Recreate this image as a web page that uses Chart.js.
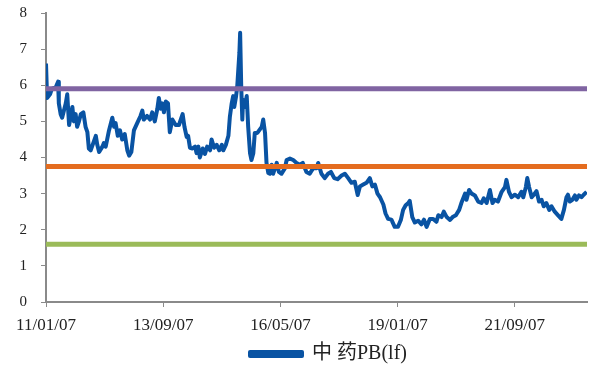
<!DOCTYPE html>
<html><head><meta charset="utf-8">
<script src="https://cdn.jsdelivr.net/npm/chart.js@4.4.0/dist/chart.umd.min.js"></script>
<style>html,body{margin:0;padding:0;background:#fff;}#wrap{width:592px;height:370px;position:relative;}</style>
</head><body><div id="wrap"><canvas id="c" width="592" height="370"></canvas></div>
<script>
// x: months since 2011-01-07, y: PB(lf)
const monthOffsets = [0.0,0.3,1.1,1.6,2.7,3.3,3.5,4.0,4.4,4.9,5.4,5.8,6.3,6.7,7.2,7.6,8.1,8.5,9.0,9.5,10.2,10.8,11.3,11.7,12.2,12.9,13.6,14.0,14.5,15.4,15.8,16.3,17.2,18.1,18.6,19.0,19.6,20.2,20.8,21.5,22.2,22.7,23.3,24.0,24.9,25.8,26.3,26.7,27.6,28.4,29.0,29.7,30.4,30.8,31.3,31.7,32.2,32.7,33.3,33.8,34.5,35.4,36.3,37.3,37.8,38.4,38.8,39.3,40.0,40.7,41.1,41.6,42.0,42.8,43.4,44.0,44.8,45.2,45.9,46.6,47.3,48.0,48.4,49.1,49.8,50.2,50.7,51.1,51.4,51.9,52.2,52.8,53.0,53.3,53.6,53.8,54.3,54.8,55.2,55.7,56.1,56.6,57.0,57.7,58.2,58.9,59.3,59.8,60.2,60.7,61.1,61.6,62.0,63.0,63.6,64.3,65.2,65.7,66.6,67.5,68.4,69.3,70.1,71.1,72.0,72.9,73.9,74.3,75.2,76.1,77.0,77.8,78.7,79.6,80.7,81.6,82.5,83.4,84.3,85.1,85.7,86.6,87.5,88.4,89.1,89.8,90.5,91.2,92.1,92.7,93.4,94.3,95.2,96.1,96.9,97.5,98.2,98.9,99.3,100.0,100.7,101.6,102.5,103.2,103.9,104.8,105.7,106.6,107.1,108.0,108.6,109.4,110.3,111.0,111.9,112.8,113.4,114.4,114.8,115.5,116.2,117.1,118.0,118.9,119.5,120.3,121.2,121.9,122.5,123.4,124.4,125.3,125.7,126.4,127.1,128.0,128.9,129.8,130.3,131.0,131.4,131.9,132.6,133.2,133.9,134.6,135.3,135.9,136.6,137.4,138.0,138.9,139.8,140.7,141.4,142.1,142.5,143.0,143.7,144.4,144.8,145.5,146.2,146.8,147.6];
const pbValues = [6.6,5.65,5.75,5.9,5.95,6.1,5.5,5.2,5.1,5.3,5.5,5.75,4.9,5.1,5.4,5.0,5.2,4.85,5.0,5.2,5.25,4.85,4.7,4.25,4.2,4.4,4.6,4.35,4.15,4.3,4.4,4.3,4.75,5.1,4.85,4.95,4.6,4.75,4.5,4.65,4.2,4.05,4.15,4.75,4.95,5.15,5.3,5.05,5.15,5.05,5.25,5.0,5.35,5.65,5.35,5.5,5.25,5.55,5.5,4.7,5.05,4.9,4.9,5.2,4.85,4.57,4.6,4.27,4.25,4.3,4.12,4.3,4.0,4.25,4.1,4.3,4.2,4.5,4.27,4.35,4.2,4.35,4.2,4.35,4.6,5.13,5.5,5.7,5.4,5.7,5.95,6.9,7.45,5.95,5.05,5.6,5.4,5.7,4.85,4.12,3.93,4.12,4.68,4.68,4.75,4.85,5.05,4.68,3.85,3.57,3.55,3.8,3.55,3.85,3.6,3.55,3.7,3.93,3.97,3.93,3.85,3.8,3.85,3.6,3.55,3.7,3.7,3.85,3.55,3.43,3.55,3.6,3.43,3.4,3.5,3.55,3.43,3.3,3.33,2.96,3.2,3.25,3.3,3.43,3.2,3.25,3.0,2.9,2.7,2.45,2.3,2.28,2.08,2.08,2.28,2.55,2.68,2.74,2.8,2.35,2.2,2.25,2.15,2.28,2.08,2.3,2.3,2.22,2.4,2.35,2.5,2.35,2.27,2.35,2.4,2.55,2.74,3.0,2.83,3.1,3.0,2.95,2.78,2.74,2.87,2.74,3.1,2.74,2.83,2.78,3.05,3.18,3.38,3.05,2.9,2.97,2.9,3.05,2.9,3.18,3.43,3.18,2.9,2.97,3.07,2.78,2.83,2.65,2.74,2.55,2.65,2.5,2.4,2.3,2.55,2.9,2.97,2.78,2.83,2.95,2.83,2.95,2.9,2.97,3.05];
const tickMonths = [0, 32, 64, 96, 128];
const tickLabels = ['11/01/07', '13/09/07', '16/05/07', '19/01/07', '21/09/07'];
const upperLevel = 5.9;
const meanLevel = 3.75;
const lowerLevel = 1.6;
const xMax = 147.7;
const seriesName = '中 药PB(lf)';

const serif = "'Liberation Serif','Times New Roman','Noto Sans CJK SC',serif";
const axisGray = '#8a8a8a';
const pts = monthOffsets.map((m, i) => ({x: m, y: pbValues[i]}));
const flat = v => [{x: 0, y: v}, {x: xMax, y: v}];

const legendShift = {
  id: 'legendShift',
  afterLayout(chart) {
    const lg = chart.legend;
    if (lg) { lg.left += 35; lg.right += 35; }
  }
};

new Chart(document.getElementById('c'), {
  type: 'line',
  data: {
    datasets: [
      {label: seriesName, data: pts, borderColor: '#0953a3', backgroundColor: '#0953a3', borderWidth: 4, pointRadius: 0, tension: 0, borderJoinStyle: 'round', order: 10},
      {label: 'upper', data: flat(upperLevel), borderColor: '#8064a2', borderWidth: 5, pointRadius: 0, order: 1},
      {label: 'mean', data: flat(meanLevel), borderColor: '#e46c1f', borderWidth: 5, pointRadius: 0, order: 1},
      {label: 'lower', data: flat(lowerLevel), borderColor: '#9bbb59', borderWidth: 5, pointRadius: 0, order: 1}
    ]
  },
  plugins: [legendShift],
  options: {
    responsive: false,
    animation: false,
    devicePixelRatio: 1,
    layout: {padding: {top: 13, right: 5, left: 0, bottom: 0}},
    plugins: {
      tooltip: {enabled: false},
      legend: {
        position: 'bottom',
        maxHeight: 30,
        labels: {
          filter: item => item.datasetIndex === 0,
          boxWidth: 52, boxHeight: 4, padding: 4,
          color: '#222',
          font: {family: serif, size: 20}
        }
      }
    },
    scales: {
      x: {
        type: 'linear', min: 0, max: xMax,
        afterBuildTicks: s => { s.ticks = tickMonths.map(v => ({value: v})); },
        afterFit: s => { s.height = 38; },
        ticks: {
          autoSkip: false, maxRotation: 0, padding: 8,
          color: '#222', font: {family: serif, size: 17},
          callback: v => tickLabels[tickMonths.indexOf(v)]
        },
        grid: {drawOnChartArea: false, drawTicks: true, tickLength: 5, color: axisGray, lineWidth: 1},
        border: {color: axisGray, width: 2}
      },
      y: {
        min: 0, max: 8,
        afterFit: s => { s.width = 46; s.paddingTop = 0; s.paddingBottom = 0; },
        ticks: {stepSize: 1, padding: 14, color: '#222', font: {family: serif, size: 15}},
        grid: {drawOnChartArea: false, drawTicks: true, tickLength: 5, color: axisGray, lineWidth: 1},
        border: {color: axisGray, width: 2}
      }
    }
  }
});
</script>
</body></html>
